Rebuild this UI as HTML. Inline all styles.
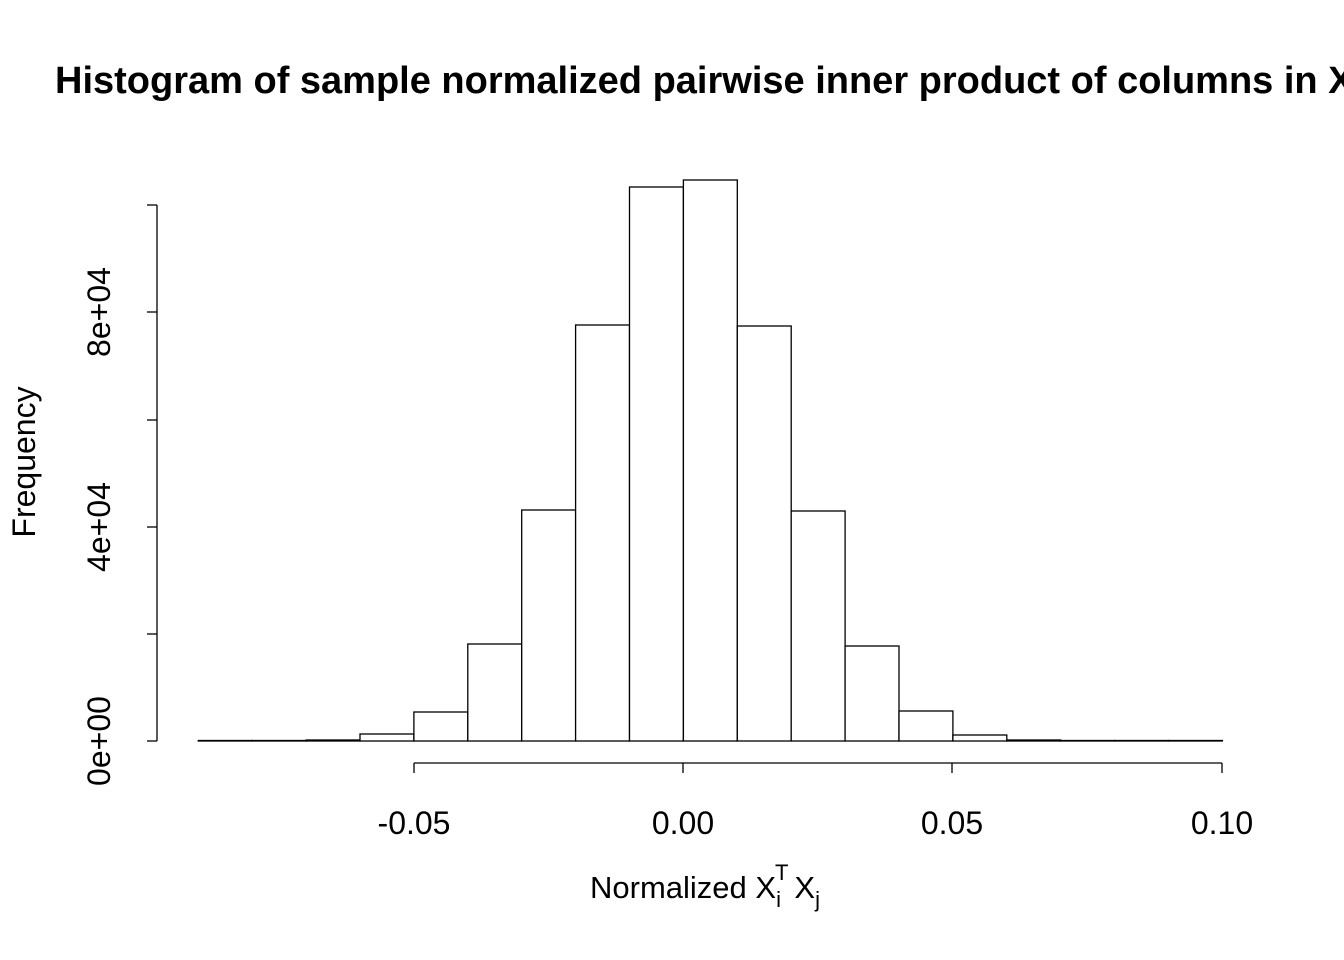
<!DOCTYPE html>
<html><head><style>body{margin:0;background:#fff}svg{display:block}</style></head><body>
<svg width="1344" height="960" xmlns="http://www.w3.org/2000/svg" font-family="Liberation Sans, Arial, sans-serif">
<rect width="1344" height="960" fill="#fff"/>
<text x="55" y="93" font-size="38" font-weight="bold">Histogram of sample normalized pairwise inner product of columns in X</text>
<g fill="#fff" stroke="#000" stroke-width="1.3">
<rect x="198.3" y="740.5" width="53.9" height="0.5"/>
<rect x="252.2" y="740.5" width="53.9" height="0.5"/>
<rect x="306.1" y="740" width="53.9" height="1"/>
<rect x="360" y="734" width="53.9" height="7"/>
<rect x="413.9" y="712" width="53.9" height="29"/>
<rect x="467.8" y="644" width="53.9" height="97"/>
<rect x="521.7" y="510" width="53.9" height="231"/>
<rect x="575.6" y="325" width="53.9" height="416"/>
<rect x="629.5" y="187" width="53.9" height="554"/>
<rect x="683.4" y="180" width="53.9" height="561"/>
<rect x="737.3" y="326" width="53.9" height="415"/>
<rect x="791.2" y="511" width="53.9" height="230"/>
<rect x="845.1" y="646" width="53.9" height="95"/>
<rect x="899" y="711" width="53.9" height="30"/>
<rect x="952.9" y="735" width="53.9" height="6"/>
<rect x="1006.8" y="740" width="53.9" height="1"/>
<rect x="1060.7" y="740.5" width="53.9" height="0.5"/>
<rect x="1114.6" y="740.5" width="53.9" height="0.5"/>
<rect x="1168.5" y="740.5" width="53.9" height="0.5"/>
</g>
<g stroke="#000" stroke-width="1.3" fill="none">
<line x1="157" y1="205" x2="157" y2="741"/>
<line x1="147" y1="741" x2="157" y2="741"/>
<line x1="147" y1="634" x2="157" y2="634"/>
<line x1="147" y1="527" x2="157" y2="527"/>
<line x1="147" y1="420" x2="157" y2="420"/>
<line x1="147" y1="312" x2="157" y2="312"/>
<line x1="147" y1="205" x2="157" y2="205"/>
<line x1="414" y1="763" x2="1222" y2="763"/>
<line x1="414" y1="763" x2="414" y2="773"/>
<line x1="683" y1="763" x2="683" y2="773"/>
<line x1="952" y1="763" x2="952" y2="773"/>
<line x1="1222" y1="763" x2="1222" y2="773"/>
</g>
<g font-size="32" text-anchor="middle">
<text x="414" y="834">-0.05</text>
<text x="683" y="834">0.00</text>
<text x="952" y="834">0.05</text>
<text x="1222" y="834">0.10</text>
<text transform="translate(110,741) rotate(-90)">0e+00</text>
<text transform="translate(110,527) rotate(-90)">4e+04</text>
<text transform="translate(110,312) rotate(-90)">8e+04</text>
<text transform="translate(35,462) rotate(-90)">Frequency</text>
</g>
<text x="590" y="898" font-size="31">Normalized X<tspan font-size="22" dy="9">i</tspan><tspan font-size="22" dx="-6" dy="-27">T</tspan><tspan dx="6" dy="18">X</tspan><tspan font-size="22" dy="9">j</tspan></text>
</svg>
</body></html>
